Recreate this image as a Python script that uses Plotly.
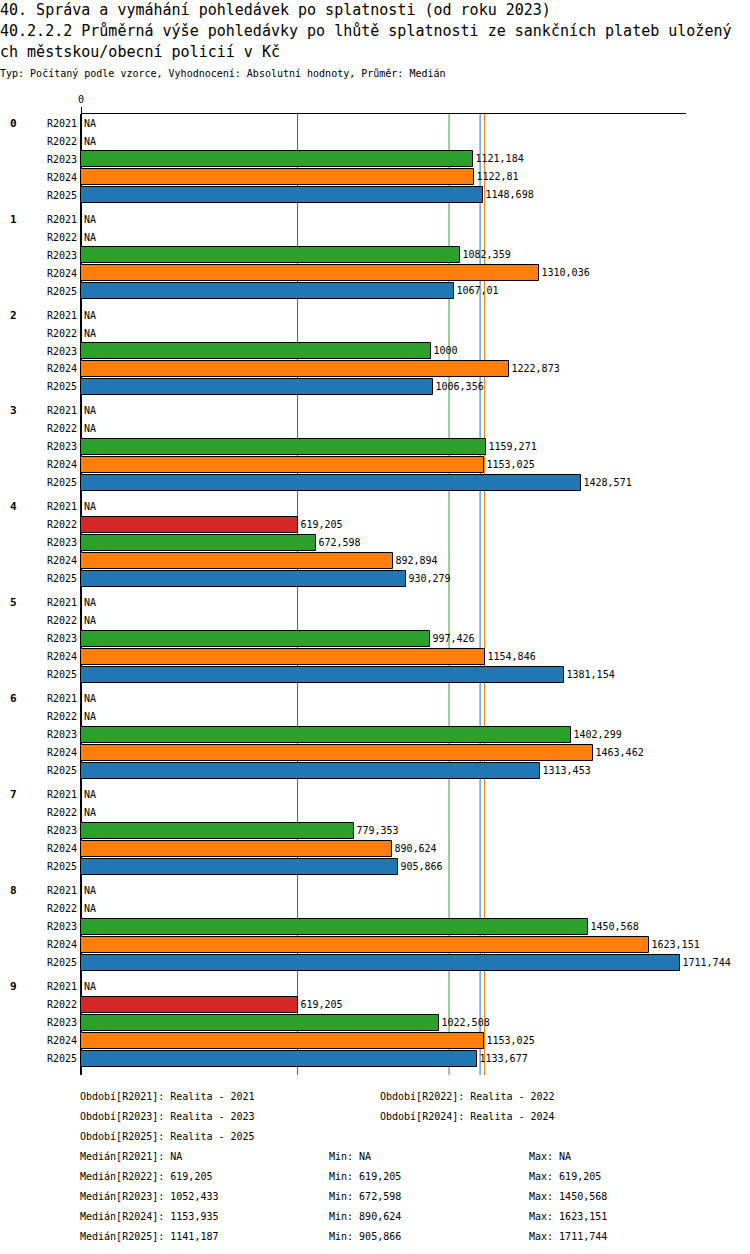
import plotly.graph_objects as go

# data
groups = ["0", "1", "2", "3", "4", "5", "6", "7", "8", "9"]
periods = ["R2021", "R2022", "R2023", "R2024", "R2025"]
period_names = ["Realita - 2021", "Realita - 2022", "Realita - 2023",
                "Realita - 2024", "Realita - 2025"]
colors = ["#1f77b4", "#d62728", "#2ca02c", "#ff7f0e", "#1f77b4"]

r2021 = [None, None, None, None, None, None, None, None, None, None]
r2022 = [None, None, None, None, 619.205, None, None, None, None, 619.205]
r2023 = [1121.184, 1082.359, 1000, 1159.271, 672.598, 997.426, 1402.299,
         779.353, 1450.568, 1022.508]
r2024 = [1122.81, 1310.036, 1222.873, 1153.025, 892.894, 1154.846, 1463.462,
         890.624, 1623.151, 1153.025]
r2025 = [1148.698, 1067.01, 1006.356, 1428.571, 930.279, 1381.154, 1313.453,
         905.866, 1711.744, 1133.677]
series = [r2021, r2022, r2023, r2024, r2025]

medians = [None, 619.205, 1052.433, 1153.935, 1141.187]
mins = [None, 619.205, 672.598, 890.624, 905.866]
maxs = [None, 619.205, 1450.568, 1623.151, 1711.744]

FONT = "DejaVu Sans Mono"
GROUP_STEP = 96 / 18  # rows per group

# plot area in pixels
PL, PT, PW, PH = 81, 114, 605, 961


def px(x):
    return (x - PL) / PW


def py(y):
    return (PT + PH - y) / PH


def fmt(v):
    if v is None:
        return "NA"
    return format(v, ".10g").replace(".", ",")


def ypos(g, i):
    return g * GROUP_STEP + i


fig = go.Figure()

for i, (p, vals) in enumerate(zip(periods, series)):
    fig.add_trace(go.Bar(
        x=vals,
        y=[ypos(g, i) for g in range(len(groups))],
        orientation="h",
        width=0.86,
        marker=dict(color=colors[i], line=dict(color="black", width=1)),
        text=[fmt(v) if v is not None else "" for v in vals],
        textposition="outside",
        constraintext="none",
        cliponaxis=False,
        textfont=dict(family=FONT, size=10, color="black"),
        name=p,
        showlegend=False,
    ))

annotations = []

# NA labels
for i, vals in enumerate(series):
    for g, v in enumerate(vals):
        if v is None:
            annotations.append(dict(x=0, y=ypos(g, i), xref="x", yref="y",
                                    text="NA", showarrow=False, xanchor="left",
                                    xshift=1, font=dict(family=FONT, size=10)))

# group labels
for g, name in enumerate(groups):
    annotations.append(dict(x=px(8), y=ypos(g, 0), xref="paper", yref="y",
                            text="<b>" + name + "</b>", showarrow=False,
                            xanchor="left", font=dict(family=FONT, size=11)))

# median lines
shapes = []
for i, m in enumerate(medians):
    if m is not None:
        shapes.append(dict(type="line", x0=m, x1=m, xref="x", y0=0, y1=1,
                           yref="paper", layer="below",
                           line=dict(color=colors[i], width=1)))

# titles
titles = [
    (10, 15, "40. Správa a vymáhání pohledávek po splatnosti (od roku 2023)"),
    (31, 15, "40.2.2.2 Průměrná výše pohledávky po lhůtě splatnosti ze sankčních plateb uložený"),
    (52, 15, "ch městskou/obecní policií v Kč"),
    (73, 10, "Typ: Počítaný podle vzorce, Vyhodnocení: Absolutní hodnoty, Průměr: Medián"),
]
for yy, size, txt in titles:
    annotations.append(dict(x=px(0), y=py(yy), xref="paper", yref="paper",
                            text=txt, showarrow=False, xanchor="left",
                            yanchor="middle", xshift=-2,
                            font=dict(family=FONT, size=size)))

# bottom legend text
bottom = []
for i, (p, n) in enumerate(zip(periods, period_names)):
    col = i % 2
    row = i // 2
    bottom.append((80 + 300 * col, 1096 + 20 * row, "Období[" + p + "]: " + n))
for i, p in enumerate(periods):
    yy = 1156 + 20 * i
    bottom.append((80, yy, "Medián[" + p + "]: " + fmt(medians[i])))
    bottom.append((329, yy, "Min: " + fmt(mins[i])))
    bottom.append((529, yy, "Max: " + fmt(maxs[i])))
for xx, yy, txt in bottom:
    annotations.append(dict(x=px(xx), y=py(yy), xref="paper", yref="paper",
                            text=txt, showarrow=False, xanchor="left",
                            yanchor="middle", xshift=-2,
                            font=dict(family=FONT, size=10)))

tickvals = [ypos(g, i) for g in range(len(groups)) for i in range(len(periods))]
ticktext = [periods[i] for g in range(len(groups)) for i in range(len(periods))]

fig.update_layout(
    width=750, height=1254,
    margin=dict(l=PL, r=750 - PL - PW, t=PT, b=1254 - PT - PH),
    plot_bgcolor="white", paper_bgcolor="white",
    font=dict(family=FONT, size=10, color="black"),
    bargap=0,
    xaxis=dict(side="top", range=[0, 1730], tickvals=[0], ticktext=["0"],
               ticks="outside", ticklen=6, tickcolor="black", showgrid=False,
               showline=True, linecolor="black", linewidth=1,
               zeroline=True, zerolinecolor="black", zerolinewidth=2,
               tickfont=dict(family=FONT, size=10)),
    yaxis=dict(range=[9 * GROUP_STEP + 4 + 0.89, -0.5], tickvals=tickvals,
               ticktext=ticktext, showgrid=False, zeroline=False,
               showline=False, ticks="", ticklabelstandoff=3,
               tickfont=dict(family=FONT, size=10)),
    annotations=annotations,
    shapes=shapes,
)

# drop the browser's default page margin so the figure starts at 0,0
fig.write_html("out.html", config={"displayModeBar": False},
               post_script="document.body.style.margin='0';")
